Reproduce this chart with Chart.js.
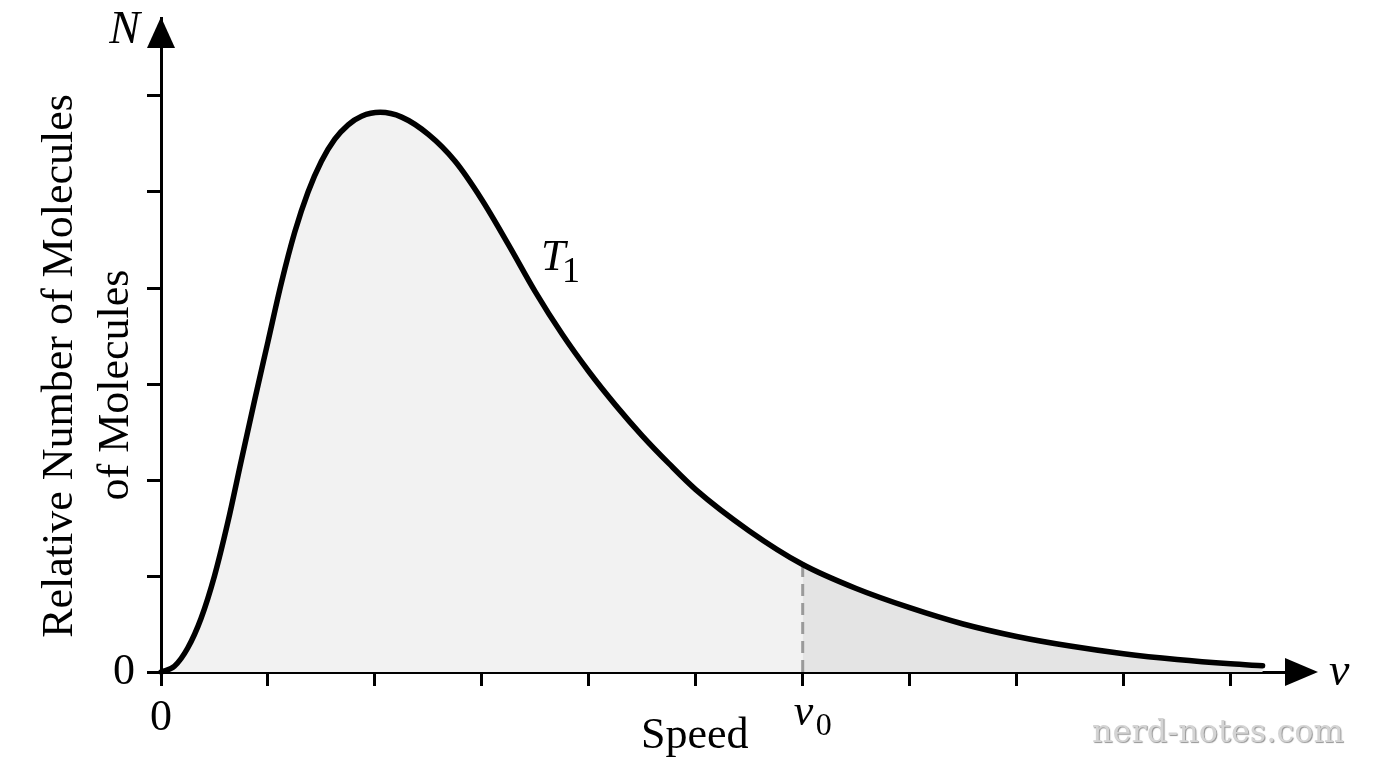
<!DOCTYPE html>
<html><head><meta charset="utf-8">
<script src="https://cdn.jsdelivr.net/npm/chart.js@4.4.1/dist/chart.umd.min.js"></script>
<style>html,body{margin:0;padding:0;background:#fff;}#wrap{width:1376px;height:768px;position:relative;}</style>
</head><body><div id="wrap"><canvas id="c"></canvas></div>
<script>
// ---- data ----
const speedValues = [0,0.125,0.25,0.375,0.5,0.625,0.75,0.875,1,1.125,1.25,1.375,1.5,1.625,1.75,1.875,2.05,2.25,2.5,2.75,3,3.25,3.5,3.75,4,4.25,4.5,4.75,5,5.5,6,6.5,7,7.5,8,8.5,9,9.5,10,10.3];
const relativeN   = [0,0.06,0.25,0.56,1.0,1.56,2.2,2.83,3.44,4.05,4.58,5.00,5.32,5.55,5.70,5.79,5.83,5.78,5.60,5.32,4.92,4.45,3.96,3.52,3.13,2.78,2.46,2.17,1.90,1.47,1.12,0.87,0.67,0.50,0.37,0.27,0.19,0.13,0.085,0.065];
const v0Value = 6;
const xTickLabels = ['0','','','','','','','','','',''];   // ticks 0..10
const yTickLabels = ['0','','','','','',''];             // ticks 0..6
const yTitleLines = ['Relative Number of Molecules','of Molecules'];
const xTitleText = 'Speed';
const curveName = 'T';
const curveSub = '1';
const xAxisSymbol = 'v';
const yAxisSymbol = 'N';
const v0Symbol = 'v';
const v0Sub = '0';
const watermark = 'nerd-notes.com';

const SERIF = '"Liberation Serif","Times New Roman",serif';
const curvePts = speedValues.map((x,i)=>({x, y: relativeN[i]}));
const tailPts = curvePts.filter(p => p.x >= v0Value);
const v0N = relativeN[speedValues.indexOf(v0Value)];

const decorPlugin = {
  id: 'decor',
  afterDraw(chart) {
    const ctx = chart.ctx;
    const xs = chart.scales.x, ys = chart.scales.y;
    const x0 = xs.getPixelForValue(0), y0 = ys.getPixelForValue(0);
    ctx.save();
    ctx.fillStyle = '#000';
    // x arrow
    ctx.beginPath();
    ctx.moveTo(1285, y0 - 14); ctx.lineTo(1318, y0); ctx.lineTo(1285, y0 + 14); ctx.closePath(); ctx.fill();
    // y arrow
    ctx.beginPath();
    ctx.moveTo(x0 - 14, 48); ctx.lineTo(x0, 17); ctx.lineTo(x0 + 14, 48); ctx.closePath(); ctx.fill();
    // axis symbols
    ctx.textBaseline = 'alphabetic';
    ctx.font = 'italic 46px ' + SERIF;
    ctx.textAlign = 'right';
    ctx.fillText(yAxisSymbol, 140, 43);
    ctx.textAlign = 'left';
    ctx.fillText(xAxisSymbol, 1329, 685);
    // v0 label
    const xv0 = xs.getPixelForValue(v0Value);
    ctx.font = 'italic 44px ' + SERIF;
    ctx.fillText(v0Symbol, xv0 - 9, 725);
    ctx.font = '32px ' + SERIF;
    ctx.fillText(v0Sub, xv0 + 13, 735);
    // curve label
    ctx.font = 'italic 44px ' + SERIF;
    ctx.fillText(curveName, 541, 270);
    ctx.font = '36px ' + SERIF;
    ctx.fillText(curveSub, 562, 282);
    // x title
    ctx.font = '44px ' + SERIF;
    ctx.fillText(xTitleText, 641, 748);
    // y title
    ctx.textAlign = 'center';
    ctx.save(); ctx.translate(72, 366); ctx.rotate(-Math.PI/2); ctx.fillText(yTitleLines[0], 0, 0); ctx.restore();
    ctx.save(); ctx.translate(128, 385); ctx.rotate(-Math.PI/2); ctx.fillText(yTitleLines[1], 0, 0); ctx.restore();
    // watermark
    ctx.textAlign = 'left';
    ctx.font = '32px "DejaVu Serif", serif';
    ctx.shadowColor = 'rgba(120,120,120,0.8)';
    ctx.shadowOffsetX = 1; ctx.shadowOffsetY = 1; ctx.shadowBlur = 1;
    ctx.fillStyle = '#d4d4d4';
    ctx.fillText(watermark, 1092, 742);
    ctx.restore();
  }
};

new Chart(document.getElementById('c'), {
  type: 'line',
  data: {
    datasets: [
      { label: 'curve', data: curvePts, borderColor: '#000', borderWidth: 5.5, fill: false,
        pointRadius: 0, cubicInterpolationMode: 'monotone', order: 0, borderCapStyle: 'round', borderJoinStyle: 'round', clip: 6 },
      { label: 'v0', data: [{x: v0Value, y: 0}, {x: v0Value, y: v0N}], borderColor: '#9a9a9a', borderWidth: 3,
        borderDash: [12, 7], pointRadius: 0, fill: false, order: 1 },
      { label: 'tail', data: tailPts, borderWidth: 0, borderColor: 'rgba(0,0,0,0)', backgroundColor: '#e4e4e4',
        fill: 'origin', pointRadius: 0, cubicInterpolationMode: 'monotone', order: 2 },
      { label: 'area', data: curvePts, borderWidth: 0, borderColor: 'rgba(0,0,0,0)', backgroundColor: '#f2f2f2',
        fill: 'origin', pointRadius: 0, cubicInterpolationMode: 'monotone', order: 3 }
    ]
  },
  options: {
    responsive: true, maintainAspectRatio: false, animation: false,
    layout: { padding: { top: 18, right: 86, left: 0, bottom: 0 } },
    plugins: { legend: { display: false }, tooltip: { enabled: false } },
    scales: {
      x: {
        type: 'linear', min: 0, max: (1290 - 161) / 106.95,
        afterFit(s) { s.height = 96; s.paddingLeft = 0; s.paddingRight = 0; s.paddingTop = 0; s.paddingBottom = 0; },
        border: { display: true, color: '#000', width: 3 },
        grid: { drawOnChartArea: false, drawTicks: true, tickLength: 14, color: '#000', lineWidth: 3 },
        ticks: { stepSize: 1, includeBounds: false, autoSkip: false, maxRotation: 0, padding: 6,
          color: '#000', font: { family: SERIF, size: 44 },
          callback: (v) => xTickLabels[Math.round(v)] ?? '' }
      },
      y: {
        type: 'linear', min: 0, max: (672 - 18) / 96,
        afterFit(s) { s.width = 161; s.paddingTop = 0; s.paddingBottom = 0; s.paddingLeft = 0; s.paddingRight = 0; },
        border: { display: true, color: '#000', width: 3 },
        grid: { drawOnChartArea: false, drawTicks: true, tickLength: 14, color: '#000', lineWidth: 3 },
        ticks: { stepSize: 1, includeBounds: false, padding: 12, color: '#000',
          font: { family: SERIF, size: 44 },
          callback: (v) => yTickLabels[Math.round(v)] ?? '' }
      }
    }
  },
  plugins: [decorPlugin]
});
</script></body></html>
